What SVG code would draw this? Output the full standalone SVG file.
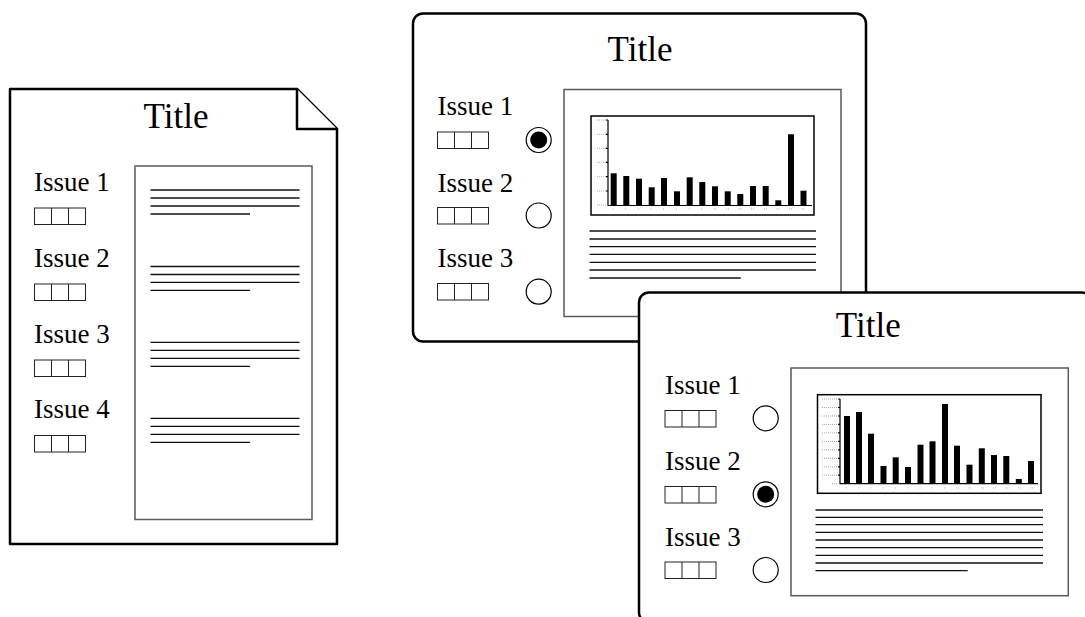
<svg xmlns="http://www.w3.org/2000/svg" width="1085" height="617" viewBox="0 0 1085 617">
<defs>
<style>
.frame{fill:#fff;stroke:#000;stroke-width:2.5;stroke-linejoin:round}
.content{fill:#fff;stroke:#5a5a5a;stroke-width:1.5}
.chart{fill:#fff;stroke:#000;stroke-width:1.5}
.title{font-family:"Liberation Serif","Times New Roman",serif;font-size:35px;fill:#000;text-anchor:middle}
.issue{font-family:"Liberation Serif","Times New Roman",serif;font-size:27px;fill:#000}
.cb{fill:#fff;stroke:#222;stroke-width:1}
.tl{stroke:#111;stroke-width:1.3;fill:none}
.radio{fill:#fff;stroke:#000;stroke-width:1.2}
.dot{fill:#000}
.bar{fill:#000}
.axis{stroke:#000;stroke-width:1.2;fill:none}
.tick{stroke:#aaa;stroke-width:1;stroke-dasharray:1 1;fill:none}
</style>
<g id="cbx">
<rect class="cb" x="0" y="0" width="51" height="16.5"/>
<line class="cb" x1="17" y1="0" x2="17" y2="16.5"/>
<line class="cb" x1="34" y1="0" x2="34" y2="16.5"/>
</g>
</defs>

<g id="document">
<path class="frame" d="M10,89 H297 L337,129 V544 H10 Z"/>
<path class="frame" fill="none" d="M297,89 V129 H337"/>
<text class="title" x="176" y="128">Title</text>
<text class="issue" x="34" y="191">Issue 1</text>
<text class="issue" x="34" y="267">Issue 2</text>
<text class="issue" x="34" y="343">Issue 3</text>
<text class="issue" x="34" y="418">Issue 4</text>
<use href="#cbx" x="34.5" y="208"/>
<use href="#cbx" x="34.5" y="284"/>
<use href="#cbx" x="34.5" y="360"/>
<use href="#cbx" x="34.5" y="435.5"/>
<rect class="content" x="135" y="166" width="177" height="353.5"/>
<g>
<line class="tl" x1="150.5" y1="190" x2="299.5" y2="190"/>
<line class="tl" x1="150.5" y1="198" x2="299.5" y2="198"/>
<line class="tl" x1="150.5" y1="206" x2="299.5" y2="206"/>
<line class="tl" x1="150.5" y1="214" x2="250" y2="214"/>
<line class="tl" x1="150.5" y1="266.5" x2="299.5" y2="266.5"/>
<line class="tl" x1="150.5" y1="274.5" x2="299.5" y2="274.5"/>
<line class="tl" x1="150.5" y1="282.3" x2="299.5" y2="282.3"/>
<line class="tl" x1="150.5" y1="290.3" x2="250" y2="290.3"/>
<line class="tl" x1="150.5" y1="342.3" x2="299.5" y2="342.3"/>
<line class="tl" x1="150.5" y1="350.3" x2="299.5" y2="350.3"/>
<line class="tl" x1="150.5" y1="358.3" x2="299.5" y2="358.3"/>
<line class="tl" x1="150.5" y1="366.3" x2="250" y2="366.3"/>
<line class="tl" x1="150.5" y1="418.3" x2="299.5" y2="418.3"/>
<line class="tl" x1="150.5" y1="426.3" x2="299.5" y2="426.3"/>
<line class="tl" x1="150.5" y1="434.3" x2="299.5" y2="434.3"/>
<line class="tl" x1="150.5" y1="442.3" x2="250" y2="442.3"/>
</g>
</g>

<g id="screen-1">
<rect class="frame" x="413" y="13.5" width="453" height="328" rx="10"/>
<text class="title" x="640" y="61">Title</text>
<text class="issue" x="437.5" y="115">Issue 1</text>
<text class="issue" x="437.5" y="191.5">Issue 2</text>
<text class="issue" x="437.5" y="267">Issue 3</text>
<use href="#cbx" x="437.5" y="132"/>
<use href="#cbx" x="437.5" y="207.5"/>
<use href="#cbx" x="437.5" y="283.5"/>
<circle class="radio" cx="538.7" cy="140" r="12.5"/>
<circle class="dot" cx="538.7" cy="140" r="8.5"/>
<circle class="radio" cx="538.7" cy="215.5" r="12.5"/>
<circle class="radio" cx="538.7" cy="291.7" r="12.5"/>
<rect class="content" x="564" y="89.5" width="277" height="227"/>
<rect class="chart" x="591" y="116" width="223" height="99"/>
<g>
<path class="tick" d="M597,120H606M597,134.3H606M597,148.3H606M597,162.3H606M597,176.7H606M597,191H606M597,205H606"/>
<path class="axis" d="M608,120V205.5H812"/>
<path class="axis" d="M606,120H608M606,134.3H608M606,148.3H608M606,162.3H608M606,176.7H608M606,191H608"/>
<path class="tick" d="M612.5,209h2M625,209h2M638,209h2M650.5,209h2M663,209h2M676,209h2M688.5,209h2M701,209h2M713.5,209h3M726,209h3M738.5,209h3M751,209h3M764,209h3M776.5,209h3M789,209h3M801.5,209h3"/>
<rect class="bar" x="610.7" y="173.3" width="6" height="32"/>
<rect class="bar" x="623.3" y="176" width="6" height="29.3"/>
<rect class="bar" x="636" y="178.7" width="6" height="26.6"/>
<rect class="bar" x="648.7" y="187.3" width="6" height="18"/>
<rect class="bar" x="661" y="178" width="6" height="27.3"/>
<rect class="bar" x="674" y="191.3" width="6" height="14"/>
<rect class="bar" x="686.7" y="177.3" width="6" height="28"/>
<rect class="bar" x="699.3" y="182" width="6" height="23.3"/>
<rect class="bar" x="712" y="186.3" width="6" height="19"/>
<rect class="bar" x="724.7" y="191.3" width="6" height="14"/>
<rect class="bar" x="737.3" y="194" width="6" height="11.3"/>
<rect class="bar" x="750" y="186" width="6" height="19.3"/>
<rect class="bar" x="762.7" y="186" width="6" height="19.3"/>
<rect class="bar" x="775.3" y="200.3" width="6" height="5"/>
<rect class="bar" x="788" y="134.3" width="6" height="71"/>
<rect class="bar" x="800.5" y="190.7" width="6" height="14.6"/>
</g>
<g>
<line class="tl" x1="589.5" y1="231" x2="816" y2="231"/>
<line class="tl" x1="589.5" y1="239" x2="816" y2="239"/>
<line class="tl" x1="589.5" y1="246.7" x2="816" y2="246.7" stroke="#555"/>
<line class="tl" x1="589.5" y1="254.3" x2="816" y2="254.3"/>
<line class="tl" x1="589.5" y1="262.3" x2="816" y2="262.3"/>
<line class="tl" x1="589.5" y1="270" x2="816" y2="270"/>
<line class="tl" x1="589.5" y1="278" x2="740.7" y2="278"/>
</g>
</g>

<g id="screen-2">
<rect class="frame" x="639" y="292.5" width="453" height="330" rx="10"/>
<text class="title" x="868.3" y="337">Title</text>
<text class="issue" x="665" y="393.5">Issue 1</text>
<text class="issue" x="665" y="470">Issue 2</text>
<text class="issue" x="665" y="545.7">Issue 3</text>
<use href="#cbx" x="665" y="410.5"/>
<use href="#cbx" x="665" y="486.5"/>
<use href="#cbx" x="665" y="562"/>
<circle class="radio" cx="765.7" cy="418.3" r="12.5"/>
<circle class="radio" cx="765.7" cy="494.3" r="12.5"/>
<circle class="dot" cx="765.7" cy="494.3" r="8.5"/>
<circle class="radio" cx="765.7" cy="570" r="12.5"/>
<rect class="content" x="791" y="368" width="277.3" height="227.7"/>
<rect class="chart" x="817.5" y="394.7" width="223.5" height="98.6"/>
<g>
<path class="tick" d="M822,399H837M822,407.5H837M822,416H837M822,424.4H837M822,432.9H837M822,441.4H837M822,449.8H837M822,458.3H837M822,466.8H837M822,475.2H837M832,483.7H837"/>
<path class="axis" d="M840,399V483.7H1038"/>
<path class="axis" d="M838,399H840M838,407.5H840M838,416H840M838,424.4H840M838,432.9H840M838,441.4H840M838,449.8H840M838,458.3H840M838,466.8H840M838,475.2H840"/>
<path class="tick" d="M846,488h2M858,488h2M870,488h2M882.5,488h2M895,488h2M907,488h2M919.5,488h2M931.5,488h2M944,488h2M956,488h3M968.5,488h3M981,488h3M993,488h3M1005.5,488h3M1018,488h3M1030,488h3"/>
<rect class="bar" x="844" y="416" width="6" height="67.7"/>
<rect class="bar" x="856" y="412" width="6" height="71.7"/>
<rect class="bar" x="868" y="433.7" width="6" height="50"/>
<rect class="bar" x="880.5" y="466" width="6" height="17.7"/>
<rect class="bar" x="892.7" y="457.3" width="6" height="26.4"/>
<rect class="bar" x="905" y="467" width="6" height="16.7"/>
<rect class="bar" x="917.5" y="444.7" width="6" height="39"/>
<rect class="bar" x="929.5" y="441.3" width="6" height="42.4"/>
<rect class="bar" x="942" y="404" width="6" height="79.7"/>
<rect class="bar" x="954" y="445.7" width="6" height="38"/>
<rect class="bar" x="966.5" y="464.7" width="6" height="19"/>
<rect class="bar" x="978.8" y="448.3" width="6" height="35.4"/>
<rect class="bar" x="991" y="455" width="6" height="28.7"/>
<rect class="bar" x="1003.3" y="456" width="6" height="27.7"/>
<rect class="bar" x="1015.8" y="479" width="6" height="4.7"/>
<rect class="bar" x="1028" y="461" width="6" height="22.7"/>
</g>
<g>
<line class="tl" x1="815.5" y1="510" x2="1043" y2="510"/>
<line class="tl" x1="815.5" y1="517.3" x2="1043" y2="517.3"/>
<line class="tl" x1="815.5" y1="524.7" x2="1043" y2="524.7"/>
<line class="tl" x1="815.5" y1="532.3" x2="1043" y2="532.3"/>
<line class="tl" x1="815.5" y1="540" x2="1043" y2="540"/>
<line class="tl" x1="815.5" y1="547.7" x2="1043" y2="547.7"/>
<line class="tl" x1="815.5" y1="555.3" x2="1043" y2="555.3"/>
<line class="tl" x1="815.5" y1="563" x2="1043" y2="563" stroke="#555"/>
<line class="tl" x1="815.5" y1="570.7" x2="967.7" y2="570.7"/>
</g>
</g>

<g id="connectors"/>
</svg>
